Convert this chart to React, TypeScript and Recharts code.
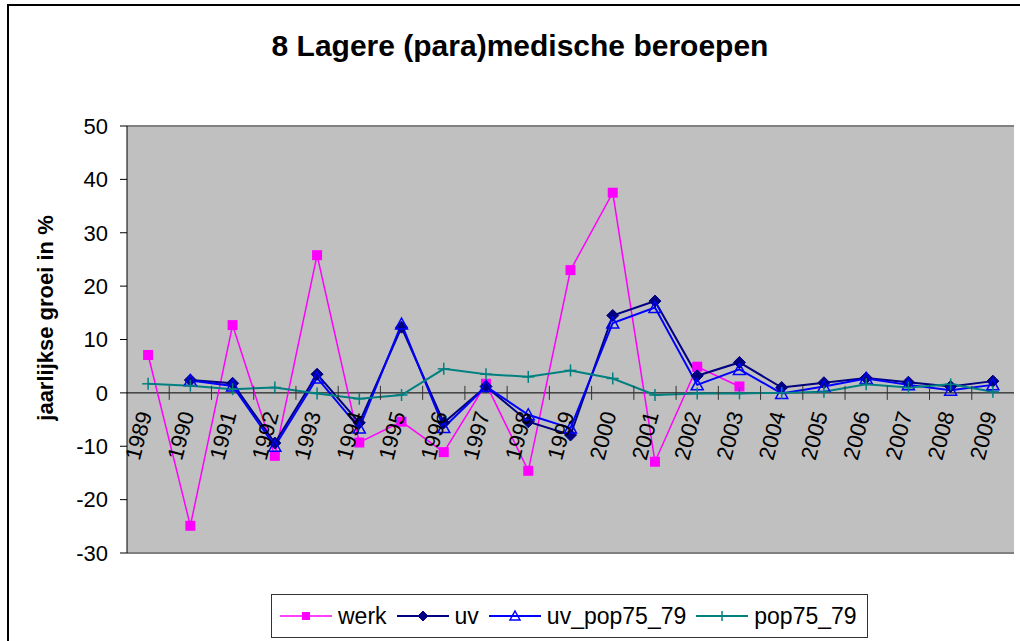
import { LineChart, Line, XAxis, YAxis, CartesianGrid, ReferenceLine } from 'recharts';

const years = [
  '1989', '1990', '1991', '1992', '1993', '1994', '1995', '1996', '1997', '1998', '1999',
  '2000', '2001', '2002', '2003', '2004', '2005', '2006', '2007', '2008', '2009',
];
const werk = [7.1, -24.9, 12.7, -11.8, 25.8, -9.3, -5.4, -11.1, 1.7, -14.6, 23.0, 37.5, -12.9, 4.9, 1.2, null, null, null, null, null, null];
const uv = [null, 2.4, 1.8, -9.4, 3.5, -5.6, 12.3, -5.6, 1.2, -5.4, -7.9, 14.5, 17.2, 3.2, 5.7, 1.0, 1.9, 2.8, 2.0, 1.2, 2.2];
const uvPop = [null, 2.3, 1.3, -10.0, 2.8, -6.6, 12.9, -6.5, 1.2, -4.1, -6.6, 13.1, 16.0, 1.5, 4.4, -0.1, 1.2, 2.7, 1.5, 0.5, 1.5];
const pop = [1.7, 1.35, 0.7, 1.0, -0.1, -1.1, -0.4, 4.5, 3.5, 3.0, 4.2, 2.7, -0.4, -0.1, -0.1, 0.0, 0.2, 1.6, 1.0, 1.6, 0.2];
const yTicks = [-30, -20, -10, 0, 10, 20, 30, 40, 50];

const FONT = 'Arial, "Liberation Sans", sans-serif';
const W = 1020;
const H = 641;
const PLOT_TOP = 126;
const PLOT_LEFT = 127;
const PLOT_RIGHT = 1014;
const PLOT_BOTTOM = 553;
const Y_MIN = -30;
const Y_MAX = 50;
const STEP = (PLOT_RIGHT - PLOT_LEFT) / years.length;
const ZERO_Y = PLOT_TOP + ((Y_MAX - 0) / (Y_MAX - Y_MIN)) * (PLOT_BOTTOM - PLOT_TOP);

const data = years.map((year, i) => ({
  year,
  werk: werk[i],
  uv: uv[i],
  uv_pop75_79: uvPop[i],
  pop75_79: pop[i],
}));

type Marker = 'square' | 'diamond' | 'triangle' | 'plus';

const series: { key: string; color: string; width: number; marker: Marker }[] = [
  { key: 'werk', color: '#FF00FF', width: 1.5, marker: 'square' },
  { key: 'uv', color: '#000080', width: 2, marker: 'diamond' },
  { key: 'uv_pop75_79', color: '#0000FF', width: 2, marker: 'triangle' },
  { key: 'pop75_79', color: '#008080', width: 2, marker: 'plus' },
];

function markerShape(marker: Marker, color: string, cx: number, cy: number, r: number, key?: string | number) {
  if (marker === 'square') {
    return <rect key={key} x={cx - r} y={cy - r} width={r * 2} height={r * 2} fill={color} />;
  }
  if (marker === 'diamond') {
    const d = r + 1;
    return (
      <polygon
        key={key}
        points={`${cx},${cy - d} ${cx + d},${cy} ${cx},${cy + d} ${cx - d},${cy}`}
        fill={color}
        stroke={color}
      />
    );
  }
  if (marker === 'triangle') {
    const d = r + 1;
    return (
      <polygon
        key={key}
        points={`${cx},${cy - d} ${cx + d},${cy + d - 1} ${cx - d},${cy + d - 1}`}
        fill="none"
        stroke={color}
        strokeWidth={1.5}
      />
    );
  }
  const d = r + 1;
  return (
    <g key={key}>
      <line x1={cx - d} y1={cy} x2={cx + d} y2={cy} stroke={color} strokeWidth={1.5} />
      <line x1={cx} y1={cy - d} x2={cx} y2={cy + d} stroke={color} strokeWidth={1.5} />
    </g>
  );
}

function makeDot(marker: Marker, color: string) {
  return (props: any) => {
    const { cx, cy, index, value } = props;
    if (value == null || cx == null || cy == null) return <g key={`e-${index}`} />;
    return markerShape(marker, color, cx, cy, 5, `d-${index}`);
  };
}

// year labels sit under the zero line, rotated like the Excel original
function YearTick(props: any) {
  const { x, payload, index } = props;
  const bx = x - STEP / 2;
  const ax = x + 4;
  const ay = ZERO_Y + 21;
  return (
    <g>
      {index > 0 && (
        <line x1={bx} y1={ZERO_Y - 7} x2={bx} y2={ZERO_Y + 7} stroke="#333" strokeWidth={1} />
      )}
      <text
        x={ax}
        y={ay}
        transform={`rotate(-75, ${ax}, ${ay})`}
        textAnchor="end"
        fontSize={22}
        fontFamily={FONT}
        fill="#000"
      >
        {payload.value}
      </text>
    </g>
  );
}

export default function App() {
  return (
    <div
      style={{
        position: 'fixed',
        left: 0,
        top: 0,
        width: W,
        height: H,
        overflow: 'hidden',
        background: '#fff',
        fontFamily: FONT,
      }}
    >
      <div
        style={{
          position: 'absolute',
          left: 0,
          top: 28,
          width: 1040,
          textAlign: 'center',
          fontSize: 30,
          fontWeight: 'bold',
          lineHeight: '36px',
        }}
      >
        8 Lagere (para)medische beroepen
      </div>
      <div
        style={{
          position: 'absolute',
          left: 46,
          top: 318,
          transform: 'translate(-50%, -50%) rotate(-90deg)',
          whiteSpace: 'nowrap',
          fontSize: 22,
          fontWeight: 'bold',
        }}
      >
        jaarlijkse groei in %
      </div>
      <div style={{ position: 'absolute', left: 0, top: 0 }}>
        <LineChart
          width={W}
          height={H}
          data={data}
          margin={{ top: PLOT_TOP, right: W - PLOT_RIGHT, bottom: H - PLOT_BOTTOM - 30, left: PLOT_LEFT - 60 }}
        >
          <CartesianGrid horizontal={false} vertical={false} fill="#C0C0C0" />
          <XAxis
            dataKey="year"
            type="category"
            interval={0}
            height={30}
            padding={{ left: STEP / 2, right: STEP / 2 }}
            axisLine={false}
            tickLine={false}
            tick={<YearTick />}
          />
          <YAxis
            width={60}
            domain={[Y_MIN, Y_MAX]}
            ticks={yTicks}
            interval={0}
            tickSize={7}
            tickMargin={12}
            axisLine={{ stroke: '#000', strokeWidth: 1 }}
            tickLine={{ stroke: '#000' }}
            tick={{ fontSize: 22, fill: '#000', fontFamily: FONT }}
          />
          <YAxis
            yAxisId="frame"
            orientation="right"
            width={0}
            domain={[Y_MIN, Y_MAX]}
            tick={false}
            tickLine={false}
            axisLine={{ stroke: '#808080', strokeWidth: 2 }}
          />
          <ReferenceLine y={Y_MAX} stroke="#808080" strokeWidth={2} />
          <ReferenceLine y={Y_MIN} stroke="#808080" strokeWidth={2} />
          <ReferenceLine y={0} stroke="#000" strokeWidth={1} />
          {series.map((s) => (
            <Line
              key={s.key}
              type="linear"
              dataKey={s.key}
              stroke={s.color}
              strokeWidth={s.width}
              dot={makeDot(s.marker, s.color)}
              activeDot={false}
              isAnimationActive={false}
            />
          ))}
        </LineChart>
      </div>
      <div
        style={{
          position: 'absolute',
          left: 271,
          top: 594,
          width: 597,
          height: 44,
          border: '1px solid #333',
          background: '#fff',
          display: 'flex',
          alignItems: 'center',
          paddingLeft: 8,
          boxSizing: 'border-box',
          fontSize: 23,
        }}
      >
        {series.map((s) => (
          <div key={s.key} style={{ display: 'flex', alignItems: 'center', marginRight: 10 }}>
            <svg width={52} height={20} style={{ display: 'block' }}>
              <line x1={0} y1={10} x2={52} y2={10} stroke={s.color} strokeWidth={s.width} />
              {markerShape(s.marker, s.color, 26, 10, 4)}
            </svg>
            <span style={{ marginLeft: 6 }}>{s.key}</span>
          </div>
        ))}
      </div>
      {/* outer chart frame, open to the right and bottom like the cropped original */}
      <svg
        width={W}
        height={H}
        style={{ position: 'absolute', left: 0, top: 0, zIndex: 5, pointerEvents: 'none' }}
      >
        <path d={`M8,${H} V5 H${W}`} fill="none" stroke="#000" strokeWidth={2} />
      </svg>
    </div>
  );
}
